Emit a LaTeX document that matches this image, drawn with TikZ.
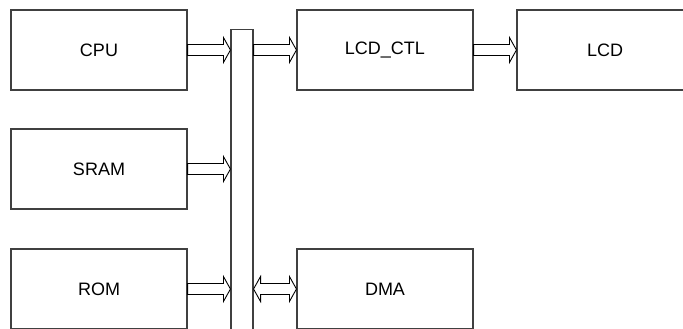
\documentclass[tikz,border=0pt]{standalone}
\usepackage{fontspec}
\setmainfont{Liberation Sans}
\usetikzlibrary{calc}

% hollow block arrow between two points at the same height
\newcommand{\busarrow}[2]{%
\draw [fatarrow] let \p1=(#1), \p2=(#2) in
  (\x1,\y1+5.5pt) -- (\x2-7pt,\y1+5.5pt) -- (\x2-7pt,\y1+12.5pt) -- (\x2,\y1)
  -- (\x2-7pt,\y1-12.5pt) -- (\x2-7pt,\y1-5.5pt) -- (\x1,\y1-5.5pt) -- cycle;}
\newcommand{\dblarrow}[2]{%
\draw [fatarrow] let \p1=(#1), \p2=(#2) in
  (\x1,\y1) -- (\x1+7pt,\y1+12.5pt) -- (\x1+7pt,\y1+5.5pt) -- (\x2-7pt,\y1+5.5pt)
  -- (\x2-7pt,\y1+12.5pt) -- (\x2,\y1) -- (\x2-7pt,\y1-12.5pt) -- (\x2-7pt,\y1-5.5pt)
  -- (\x1+7pt,\y1-5.5pt) -- (\x1+7pt,\y1-12.5pt) -- cycle;}

\tikzset{
  block/.style={draw=black!75,line width=1.1pt,fill=white,minimum width=176pt,
    minimum height=80pt,inner sep=0pt,font=\fontsize{18}{20}\selectfont},
  fatarrow/.style={draw=black,line width=0.9pt,fill=white,line join=miter},
}

\begin{document}
\begin{tikzpicture}[x=1pt,y=-1pt]
\useasboundingbox (0,0) rectangle (683,329);
\clip (0,0) rectangle (683,329);
\fill [white] (0,0) rectangle (683,329);
\node [block] (cpu) at (99,50) {CPU};
\node [block] (sram) at (99,169) {SRAM};
\node [block] (rom) at (99,289) {ROM};
\node [block] (lcdctl) at (385,50) {LCD\_CTL};
\node [block] (lcd) at (605,50) {LCD};
\node [block] (dma) at (385,289) {DMA};
\node [block,anchor=north,minimum width=22pt,minimum height=310pt] (bus) at (242,29) {};
\busarrow{cpu.east}{bus.west |- cpu.east}
\busarrow{sram.east}{bus.west |- sram.east}
\busarrow{rom.east}{bus.west |- rom.east}
\busarrow{bus.east |- lcdctl.west}{lcdctl.west}
\busarrow{lcdctl.east}{lcd.west}
\dblarrow{bus.east |- dma.west}{dma.west}
\end{tikzpicture}
\end{document}
